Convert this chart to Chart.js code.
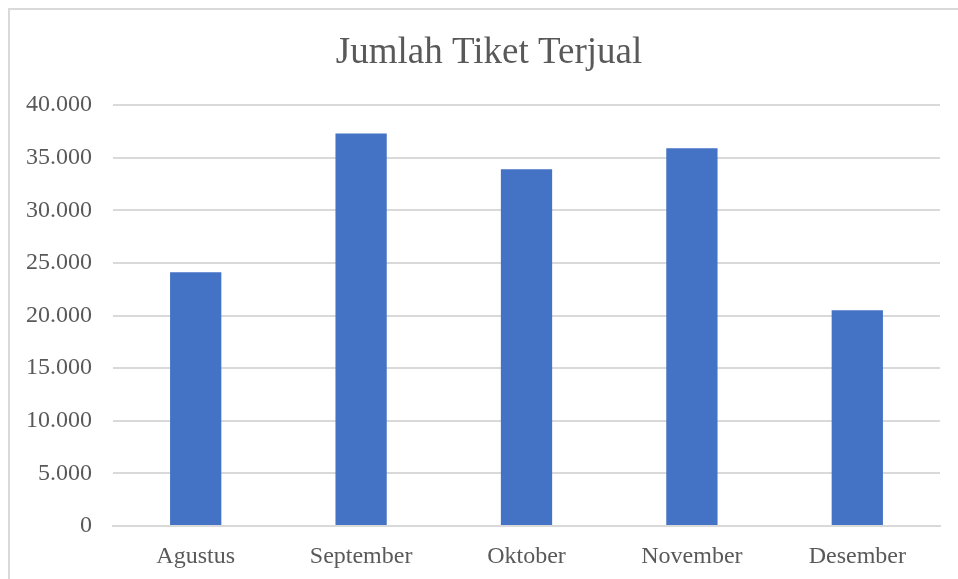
<!DOCTYPE html>
<html>
<head>
<meta charset="utf-8">
<script src="https://cdn.jsdelivr.net/npm/chart.js@4/dist/chart.umd.min.js"></script>
<style>
  html, body { margin: 0; padding: 0; background: #fff; }
  #wrap { width: 958px; height: 579px; }
</style>
</head>
<body>
<div id="wrap"><canvas id="tiketBar" width="958" height="579"></canvas></div>
<script>
// data
const months = ['Agustus', 'September', 'Oktober', 'November', 'Desember'];
const ticketsSold = [24100, 37300, 33900, 35900, 20500];
const yTicks = [0, 5000, 10000, 15000, 20000, 25000, 30000, 35000, 40000];
const chartTitle = 'Jumlah Tiket Terjual';

const textColor = '#595959';
const gridColor = '#d9d9d9';
const serif = "'Liberation Serif', 'Times New Roman', serif";

// garis tepi kiri & atas + judul
const framePlugin = {
    id: 'frame',
    beforeDraw(chart) {
        const c = chart.ctx;
        c.save();
        c.fillStyle = '#fff';
        c.fillRect(0, 0, chart.width, chart.height);
        c.strokeStyle = gridColor;
        c.lineWidth = 2;
        c.beginPath();
        c.moveTo(9, chart.height + 5);
        c.lineTo(9, 9);
        c.lineTo(chart.width + 5, 9);
        c.stroke();
        c.fillStyle = textColor;
        c.font = '37px ' + serif;
        c.textAlign = 'center';
        c.textBaseline = 'middle';
        c.fillText(chartTitle, 489, 53);
        c.restore();
    }
};

const tiketCanvas = document.getElementById('tiketBar');
if (tiketCanvas) {
    const ctx = tiketCanvas.getContext('2d');
    new Chart(ctx, {
        type: 'bar',
        data: {
            labels: months,
            datasets: [{
                label: chartTitle,
                data: ticketsSold,
                backgroundColor: '#4472c4',
                borderWidth: 0,
                barPercentage: 0.31,
                categoryPercentage: 1.0
            }]
        },
        options: {
            responsive: false,
            animation: false,
            layout: { padding: { top: 105, right: 18, left: 0, bottom: 0 } },
            plugins: {
                legend: { display: false },
                title: { display: false },
                tooltip: { enabled: false }
            },
            scales: {
                x: {
                    grid: { display: false, drawTicks: false },
                    border: { display: true, color: gridColor, width: 2 },
                    ticks: {
                        color: textColor,
                        font: { family: serif, size: 24 },
                        padding: 16
                    },
                    afterFit(scale) { scale.height = 53; }
                },
                y: {
                    min: 0,
                    max: 40000,
                    afterBuildTicks(scale) {
                        scale.ticks = yTicks.map(v => ({ value: v }));
                    },
                    grid: { color: gridColor, lineWidth: 2, drawTicks: false },
                    border: { display: false },
                    ticks: {
                        color: textColor,
                        font: { family: serif, size: 24 },
                        padding: 21,
                        callback: v => v.toLocaleString('de-DE')
                    },
                    afterFit(scale) { scale.width = 113; }
                }
            }
        },
        plugins: [framePlugin]
    });
}
</script>
</body>
</html>
